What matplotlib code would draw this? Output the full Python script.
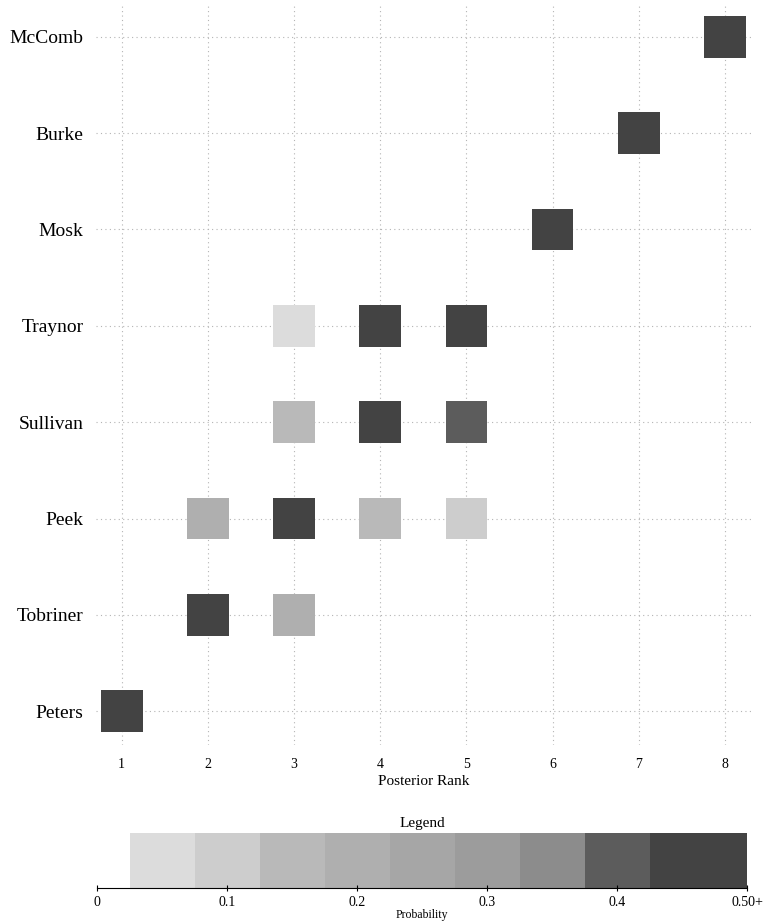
import numpy as np
import matplotlib
matplotlib.use('Agg')
import matplotlib.pyplot as plt
from matplotlib.colors import ListedColormap, BoundaryNorm

# justices, bottom row first
justices = ['Peters', 'Tobriner', 'Peek', 'Sullivan', 'Traynor', 'Mosk', 'Burke', 'McComb']
ranks = [1, 2, 3, 4, 5, 6, 7, 8]

# posterior probability of each rank
peters = [0.95, 0, 0, 0, 0, 0, 0, 0]
tobriner = [0, 0.75, 0.20, 0, 0, 0, 0, 0]
peek = [0, 0.22, 0.50, 0.15, 0.10, 0, 0, 0]
sullivan = [0, 0, 0.13, 0.48, 0.40, 0, 0, 0]
traynor = [0, 0, 0.06, 0.45, 0.47, 0, 0, 0]
mosk = [0, 0, 0, 0, 0, 0.9, 0, 0]
burke = [0, 0, 0, 0, 0, 0, 0.9, 0]
mccomb = [0, 0, 0, 0, 0, 0, 0, 0.95]

# shading levels of the legend
level_edges = [0.025, 0.075, 0.125, 0.175, 0.225, 0.275, 0.325, 0.375, 0.425, 1.0]
level_grays = ['#dcdcdc', '#cdcdcd', '#b9b9b9', '#afafaf', '#a6a6a6',
               '#9c9c9c', '#8c8c8c', '#5c5c5c', '#434343']
legend_ticks = [0, 0.1, 0.2, 0.3, 0.4, 0.5]
legend_labels = ['0', '0.1', '0.2', '0.3', '0.4', '0.50+']

plt.rcParams['font.family'] = ['Liberation Serif', 'DejaVu Serif']

cmap = ListedColormap(level_grays)
norm = BoundaryNorm(level_edges, cmap.N)

fig = plt.figure(figsize=(7.67, 9.24), dpi=100)
ax = fig.add_axes([0.125, 0.1937, 0.854, 0.801])

rows = [peters, tobriner, peek, sullivan, traynor, mosk, burke, mccomb]
xs, ys, ps = [], [], []
for i, row in enumerate(rows):
    for j, p in enumerate(row):
        if p >= 0.025:
            xs.append(ranks[j])
            ys.append(i + 1)
            ps.append(p)

ax.scatter(xs, ys, c=ps, cmap=cmap, norm=norm, marker='s', s=900,
           linewidths=0, zorder=3)

ax.set_xlim(0.7, 8.3)
ax.set_ylim(0.65, 8.33)
ax.set_xticks(ranks)
ax.set_xticklabels([str(r) for r in ranks], fontsize=10)
ax.set_yticks(range(1, len(justices) + 1))
ax.set_yticklabels(justices, fontsize=14)
ax.tick_params(axis='both', length=0)
ax.tick_params(axis='y', pad=9)
ax.tick_params(axis='x', pad=9)
ax.set_xlabel('Posterior Rank', fontsize=11, labelpad=3)
for s in ax.spines.values():
    s.set_visible(False)
ax.grid(True, linestyle=(0, (1, 3)), color='#b4b4b4', linewidth=0.8, zorder=0)
ax.set_axisbelow(True)

# legend bar
lax = fig.add_axes([0.1265, 0.039, 0.8475, 0.0595])
lefts = level_edges[:-1]
rights = level_edges[1:-1] + [0.5]
widths = [r - l for l, r in zip(lefts, rights)]
lax.bar(lefts, [1] * len(lefts), width=widths, align='edge', color=level_grays,
        linewidth=0)
lax.set_xlim(0, 0.5)
lax.set_ylim(0, 1)
lax.set_yticks([])
lax.set_xticks(legend_ticks)
lax.set_xticklabels(legend_labels, fontsize=10)
lax.tick_params(axis='x', direction='inout', length=5, width=0.8, pad=3)
for s in ['top', 'left', 'right']:
    lax.spines[s].set_visible(False)
lax.spines['bottom'].set_linewidth(0.8)
lax.set_title('Legend', fontsize=11, pad=4)
lax.set_xlabel('Probability', fontsize=8.5, labelpad=0)

fig.savefig('out.png', dpi=100)
